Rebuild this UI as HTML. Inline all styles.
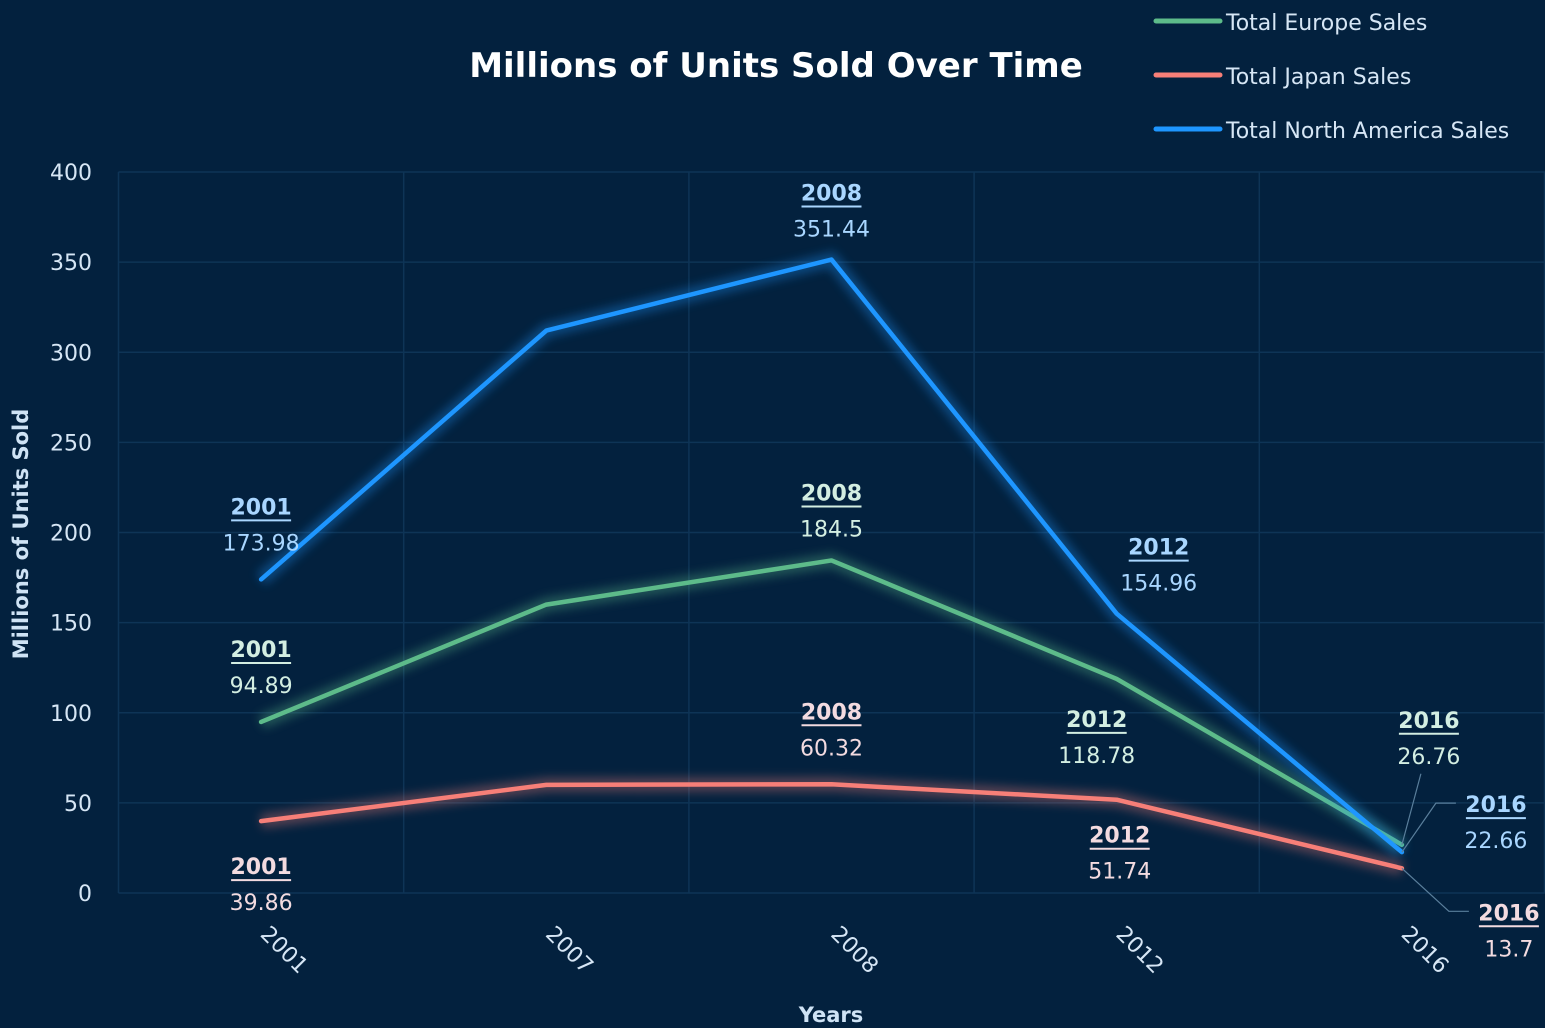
<!DOCTYPE html>
<html><head><meta charset="utf-8"><style>
html,body{margin:0;padding:0;background:#03213e;}
svg{display:block;font-family:"DejaVu Sans","Liberation Sans",sans-serif;}
</style></head><body>
<svg id="chart" width="1545" height="1028" viewBox="0 0 1545 1028">
<defs>
<filter id="glow" x="-20%" y="-50%" width="140%" height="200%"><feGaussianBlur stdDeviation="5"/></filter>
</defs>
<rect width="1545" height="1028" fill="#03213e"/>
<text x="776" y="77" text-anchor="middle" font-size="34" font-weight="bold" fill="#ffffff">Millions of Units Sold Over Time</text>
<g id="grid"></g>
<g id="series"></g>
<g id="labels"></g>
<g id="axes"></g>
<text transform="translate(28,534) rotate(-90)" text-anchor="middle" font-size="21" font-weight="bold" fill="#cfe3f5">Millions of Units Sold</text>
<text x="831" y="1022" text-anchor="middle" font-size="21" font-weight="bold" fill="#cfe3f5">Years</text>
<g>
<g><line x1="1156" y1="21" x2="1220" y2="21" stroke="#5dbb8a" stroke-width="5" stroke-linecap="round"/><text x="1226" y="30" font-size="22" fill="#d6e6f5">Total Europe Sales</text></g>
<g><line x1="1156" y1="75" x2="1220" y2="75" stroke="#f77f78" stroke-width="5" stroke-linecap="round"/><text x="1226" y="84" font-size="22" fill="#d6e6f5">Total Japan Sales</text></g>
<g><line x1="1156" y1="129" x2="1220" y2="129" stroke="#1e96ff" stroke-width="5" stroke-linecap="round"/><text x="1226" y="138" font-size="22" fill="#d6e6f5">Total North America Sales</text></g>
</g>
</svg>
<script>
const categories = ["2001","2007","2008","2012","2016"];
const europeValues = [94.89, 160, 184.5, 118.78, 26.76];
const japanValues = [39.86, 60, 60.32, 51.74, 13.7];
const naValues = [173.98, 312, 351.44, 154.96, 22.66];
const yTicks = [0,50,100,150,200,250,300,350,400];

const NS = "http://www.w3.org/2000/svg";
const plotLeft = 118.5, bandW = 285.2, plotTop = 172, plotBottom = 893, yMax = 400;
function xPos(i){ return plotLeft + bandW*(i+0.5); }
function yPos(v){ return plotBottom - (v/yMax)*(plotBottom-plotTop); }
function mk(tag, attrs, parent){ const e=document.createElementNS(NS,tag); for(const k in attrs) e.setAttribute(k,attrs[k]); parent.appendChild(e); return e; }

const grid = document.getElementById('grid');
const axes = document.getElementById('axes');
yTicks.forEach(t=>{
  const l = mk('line',{x1:plotLeft,x2:1545,y1:yPos(t),y2:yPos(t),stroke:'#0e3456','stroke-width':1.5},grid);
  
  
  const tx = mk('text',{x:92,y:yPos(t)+8,'text-anchor':'end','font-size':22,fill:'#d6e6f5'},axes);
  tx.textContent = t;
  
  
});
for(let i=0;i<=categories.length;i++){
  const x = plotLeft + bandW*i;
  const l = mk('line',{x1:x,x2:x,y1:plotTop,y2:plotBottom,stroke:'#0e3456','stroke-width':1.5},grid);
  
  
}
categories.forEach((c,i)=>{
  const x = xPos(i)+18, y = 955;
  const tx = mk('text',{x:x,y:y,'text-anchor':'middle','font-size':22,fill:'#d6e6f5',transform:`rotate(45 ${x} ${y})`},axes);
  tx.textContent = c;
  
  
});

const seriesDefs = [
  {name:'europe', vals:europeValues, color:'#5dbb8a', label:'#d3eee2', offs:[[0,-74],null,[0,-69],[-20,39],[27,-126]]},
  {name:'japan', vals:japanValues, color:'#f77f78', label:'#f3dbe0', offs:[[0,44],null,[0,-74],[3,34],[107,43]]},
  {name:'north-america', vals:naValues, color:'#1e96ff', label:'#a9d6ff', offs:[[0,-74],null,[0,-68],[42,-68],[94,-49]]}
];
const sg = document.getElementById('series');
const lg = document.getElementById('labels');
seriesDefs.forEach(s=>{
  const pts = s.vals.map((v,i)=>xPos(i)+','+yPos(v)).join(' ');
  const glow = mk('polyline',{points:pts,fill:'none',stroke:s.color,'stroke-width':14,opacity:0.35,filter:'url(#glow)'},sg);
  
  
  const pl = mk('polyline',{points:pts,fill:'none',stroke:s.color,'stroke-width':4.5,'stroke-linejoin':'round','stroke-linecap':'round'},sg);
  
  
  s.vals.forEach((v,i)=>{
    const o = s.offs[i]; if(!o) return;
    const px = xPos(i), py = yPos(v);
    const lx = px+o[0], ly = py+o[1];
    if(i===4){
      const far = o[0]>50;
      const pts2 = far ? `${px},${py} ${lx-60},${ly} ${lx-40},${ly}` : `${px},${py} ${lx-8},${ly+55}`;
      const ln = mk('polyline',{points:pts2,fill:'none',stroke:'#5a7f9c','stroke-width':1.2},lg);
      
      
    }
    const yt = mk('text',{x:lx,y:ly+9,'text-anchor':'middle','font-size':22,'font-weight':'bold',fill:s.label},lg);
    yt.textContent = categories[i];
    
    
    const ul = mk('line',{x1:lx-30,x2:lx+30,y1:ly+15,y2:ly+15,stroke:s.label,'stroke-width':2},lg);
    
    
    const vt = mk('text',{x:lx,y:ly+45,'text-anchor':'middle','font-size':22,fill:s.label},lg);
    vt.textContent = v;
    
    
  });
});
</script>
</body></html>
